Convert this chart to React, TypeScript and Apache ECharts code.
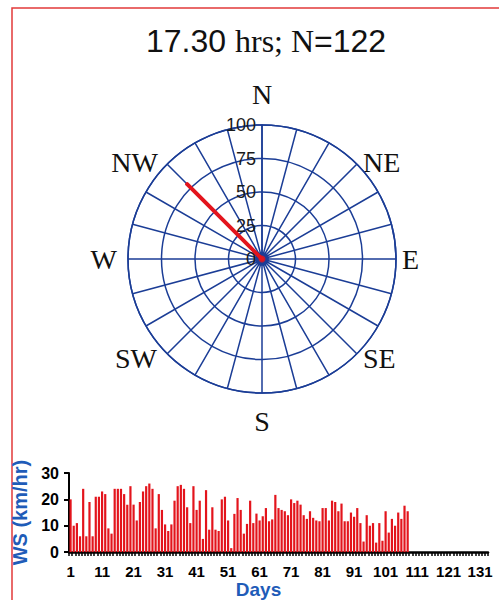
import React, { useEffect, useRef } from 'react';
import * as echarts from 'echarts';

// ---- data ----
const titleTime = '17.30';
const titleCount = 122;
const compassNames: Record<number, string> = { 0: 'N', 45: 'NE', 90: 'E', 135: 'SE', 180: 'S', 225: 'SW', 270: 'W', 315: 'NW' };
const compassKeys: Record<number, string> = { 0: 'n', 45: 'ne', 90: 'e', 135: 'se', 180: 's', 225: 'sw', 270: 'w', 315: 'nw' };
const windDirection = 315; // degrees
const windMagnitude = 79;  // radial units
const dayLabels: string[] = [];
for (let d = 1; d <= 133; d++) dayLabels.push(String(d));
const wsValues = [
  20, 10, 11, 6, 24, 6, 19, 6, 21, 21,
  23, 22, 9, 7, 24, 24, 24, 22, 18, 25,
  18, 12, 19, 23, 25, 26, 24, 9, 22, 16,
  10.5, 8, 10.5, 19.5, 25, 25.5, 24, 17, 11, 25,
  16, 19.5, 5, 23.5, 8.5, 17, 8.5, 8, 20, 21,
  12, 1.5, 14.5, 20.5, 16, 7, 10.7, 19.5, 11, 14.6,
  12, 13.6, 16.7, 11.7, 12.4, 21.7, 16.7, 16, 15.5, 14,
  20, 18.6, 19.5, 18, 14, 12.6, 15.5, 13, 12, 11.7,
  16.7, 16.7, 12, 19.5, 19, 15.5, 18.4, 11.7, 11.7, 15,
  13.4, 16.7, 11, 4, 14, 10, 11, 3.6, 11, 4.3,
  15.5, 7.4, 12.6, 10, 15, 12.6, 17.6, 15.5,
];

const NAVY = '#1b3d96';
const BLUE = '#1f5cb8';
const RED = '#e3141c';
const SANS = '"Liberation Sans", Arial, sans-serif';
const SERIF = '"Liberation Serif", "Times New Roman", serif';

export default function App() {
  const ref = useRef<HTMLDivElement>(null);
  useEffect(() => {
    if (!ref.current) return;
    const chart = echarts.init(ref.current, undefined, { renderer: 'svg' });
    const compassRich: any = {
      n: { padding: [0, 0, 35, 0] },
      s: { padding: [32, 0, 0, 0] },
      e: { padding: [0, 0, 0, 24] },
      w: { padding: [0, 29, 0, 0] },
      ne: { padding: [0, 0, 0, 19] },
      nw: { padding: [0, 22, 0, 0] },
      se: { padding: [3, 0, 0, 19] },
      sw: { padding: [3, 23, 0, 0] },
    };
    Object.keys(compassRich).forEach((k) => {
      compassRich[k] = { ...compassRich[k], fontFamily: SERIF, fontSize: 28, color: '#111' };
    });
    const option: any = {
      animation: false,
      backgroundColor: '#ffffff',
      title: {
        left: 146,
        top: 25,
        padding: 0,
        text: `{a|${titleTime} }{b|hrs; N}{a|=${titleCount}}`,
        textStyle: {
          fontWeight: 'normal',
          rich: {
            a: { fontFamily: SANS, fontSize: 32, fontWeight: 'normal', color: '#111' },
            b: { fontFamily: SERIF, fontSize: 32, fontWeight: 'normal', color: '#111' },
          },
        },
      },
      graphic: [
        {
          type: 'rect',
          shape: { x: 12, y: 8, width: 520, height: 620 },
          style: { fill: 'none', stroke: '#e23a3a', lineWidth: 1.5 },
          silent: true,
        },
      ],
      polar: { center: [262, 259], radius: 134 },
      angleAxis: {
        type: 'value',
        min: 0,
        max: 360,
        interval: 15,
        startAngle: 90,
        clockwise: true,
        axisLine: { show: true, lineStyle: { color: NAVY, width: 1.5 } },
        axisTick: { show: false },
        splitLine: { show: true, lineStyle: { color: NAVY, width: 1.5 } },
        axisLabel: {
          margin: -18,
          formatter: (v: number) => (compassNames[v] && v < 360 ? `{${compassKeys[v]}|${compassNames[v]}}` : ''),
          rich: compassRich,
        },
      },
      radiusAxis: {
        type: 'value',
        min: 0,
        max: 100,
        interval: 25,
        axisLine: { show: true, lineStyle: { color: NAVY, width: 1.5 } },
        axisTick: { show: false },
        splitLine: { show: true, lineStyle: { color: NAVY, width: 1.5 } },
        axisLabel: { margin: 6, fontFamily: SANS, fontSize: 18, color: '#1a1a1a' },
        z: 5,
      },
      grid: { left: 69, right: 11, top: 473, bottom: 47 },
      xAxis: {
        type: 'category',
        gridIndex: 0,
        data: dayLabels,
        name: 'Days',
        nameLocation: 'middle',
        nameGap: 25,
        nameTextStyle: { color: BLUE, fontFamily: SANS, fontWeight: 'bold', fontSize: 19, padding: [0, 40, 0, 0] },
        axisLine: { lineStyle: { color: '#000', width: 2.5 } },
        axisTick: { show: true, interval: 0, length: 4, lineStyle: { color: '#000', width: 1.5 } },
        axisLabel: { interval: 9, margin: 12, color: '#000', fontFamily: SANS, fontWeight: 'bold', fontSize: 15 },
      },
      yAxis: {
        type: 'value',
        gridIndex: 0,
        min: 0,
        max: 30,
        interval: 10,
        name: 'WS (km/hr)',
        nameLocation: 'middle',
        nameGap: 32,
        nameTextStyle: { color: BLUE, fontFamily: SANS, fontWeight: 'bold', fontSize: 20 },
        axisLine: { show: true, lineStyle: { color: '#000', width: 2 } },
        axisTick: { show: true, length: 5, lineStyle: { color: '#000', width: 2 } },
        splitLine: { show: false },
        axisLabel: { margin: 10, color: '#000', fontFamily: SANS, fontWeight: 'bold', fontSize: 16 },
      },
      series: [
        {
          type: 'scatter',
          coordinateSystem: 'polar',
          data: [[0, 0]],
          symbolSize: 14,
          itemStyle: { color: NAVY },
          z: 6,
          silent: true,
        },
        {
          type: 'line',
          coordinateSystem: 'polar',
          data: [[0, windDirection], [windMagnitude, windDirection]],
          symbol: 'none',
          lineStyle: { color: RED, width: 4, cap: 'round' },
          z: 7,
          silent: true,
        },
        {
          type: 'scatter',
          coordinateSystem: 'polar',
          data: [[0, 0]],
          symbolSize: 7,
          itemStyle: { color: RED },
          z: 8,
          silent: true,
        },
        {
          type: 'bar',
          xAxisIndex: 0,
          yAxisIndex: 0,
          data: wsValues,
          barWidth: 2.2,
          itemStyle: { color: RED },
        },
      ],
    };
    chart.setOption(option);
    return () => chart.dispose();
  }, []);
  return <div ref={ref} style={{ position: 'absolute', left: 0, top: 0, width: 499, height: 600 }} />;
}
